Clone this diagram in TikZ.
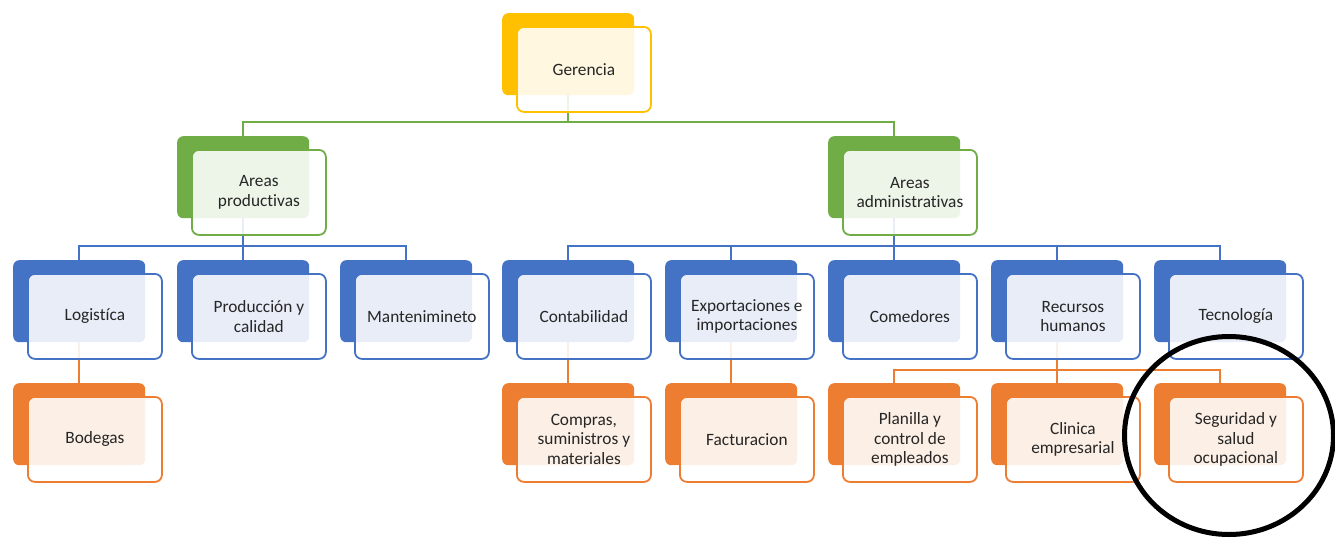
\documentclass[tikz,border=0pt]{standalone}
\usepackage{fontspec}
\setmainfont{Carlito}[Ligatures=NoCommon]
\definecolor{cgold}{HTML}{FFC000}
\definecolor{cgrn}{HTML}{70AD47}
\definecolor{cblu}{HTML}{4472C4}
\definecolor{corg}{HTML}{ED7D31}
\definecolor{ctxt}{HTML}{262626}
\tikzset{
  backsty/.style={rectangle, rounded corners=6pt, minimum width=132pt, minimum height=82pt, anchor=north west, draw=none, inner sep=0pt},
  frontsty/.style={rectangle, rounded corners=7pt, minimum width=134pt, minimum height=85pt, anchor=north west, line width=1.8pt, fill=white, fill opacity=0.88, text opacity=1, text=ctxt, align=center, inner sep=2pt, font=\fontsize{17.3}{19.5}\selectfont},
  conn/.style={line width=1.8pt}
}
\newcommand{\backbox}[4]{\node[backsty, fill=#4] (#1-b) at (#2,#3) {};}
\newcommand{\frontbox}[5]{\node[frontsty, draw=#4] (#1) at (#2+14,#3+13) {#5};}
\begin{document}
\begin{tikzpicture}[x=1pt,y=-1pt]
\useasboundingbox (0,0) rectangle (1335,538);
% back boxes
\backbox{g}{502}{13}{cgold}
\backbox{ap}{177}{136}{cgrn}
\backbox{aa}{828}{136}{cgrn}
\backbox{lo}{13}{260}{cblu}
\backbox{pc}{177}{260}{cblu}
\backbox{ma}{340}{260}{cblu}
\backbox{co}{502}{260}{cblu}
\backbox{ex}{665}{260}{cblu}
\backbox{cm}{828}{260}{cblu}
\backbox{rh}{991}{260}{cblu}
\backbox{te}{1154}{260}{cblu}
\backbox{bo}{13}{383}{corg}
\backbox{cs}{502}{383}{corg}
\backbox{fa}{665}{383}{corg}
\backbox{pl}{828}{383}{corg}
\backbox{cl}{991}{383}{corg}
\backbox{se}{1154}{383}{corg}
% connectors
\foreach \c in {ap,aa}
  \draw[conn, cgrn] (\c-b.north) -- ++(0,-14) -| (g-b.south);
\foreach \c in {lo,pc,ma}
  \draw[conn, cblu] (\c-b.north) -- ++(0,-14) -| (ap-b.south);
\foreach \c in {co,ex,cm,rh,te}
  \draw[conn, cblu] (\c-b.north) -- ++(0,-14) -| (aa-b.south);
\draw[conn, corg] (bo-b.north) -- (lo-b.south);
\draw[conn, corg] (cs-b.north) -- (co-b.south);
\draw[conn, corg] (fa-b.north) -- (ex-b.south);
\foreach \c in {pl,cl,se}
  \draw[conn, corg] (\c-b.north) -- ++(0,-13) -| (rh-b.south);
% front boxes
\frontbox{gf}{502}{13}{cgold}{Gerencia}
\frontbox{apf}{177}{136}{cgrn}{Areas\\productivas}
\frontbox{aaf}{828}{136}{cgrn}{Areas\\administrativas}
\frontbox{lof}{13}{260}{cblu}{Logistíca}
\frontbox{pcf}{177}{260}{cblu}{Producción y\\calidad}
\frontbox{maf}{340}{260}{cblu}{Mantenimineto}
\frontbox{cof}{502}{260}{cblu}{Contabilidad}
\frontbox{exf}{665}{260}{cblu}{Exportaciones e\\importaciones}
\frontbox{cmf}{828}{260}{cblu}{Comedores}
\frontbox{rhf}{991}{260}{cblu}{Recursos\\humanos}
\frontbox{tef}{1154}{260}{cblu}{Tecnología}
\frontbox{bof}{13}{383}{corg}{Bodegas}
\frontbox{csf}{502}{383}{corg}{Compras,\\suministros y\\materiales}
\frontbox{faf}{665}{383}{corg}{Facturacion}
\frontbox{plf}{828}{383}{corg}{Planilla y\\control de\\empleados}
\frontbox{clf}{991}{383}{corg}{Clinica\\empresarial}
\frontbox{sef}{1154}{383}{corg}{Seguridad y\\salud\\ocupacional}
% highlight circle
\draw[line width=5pt, black] (1229,435.5) ellipse [x radius=104.5pt, y radius=99pt];
\end{tikzpicture}
\end{document}
